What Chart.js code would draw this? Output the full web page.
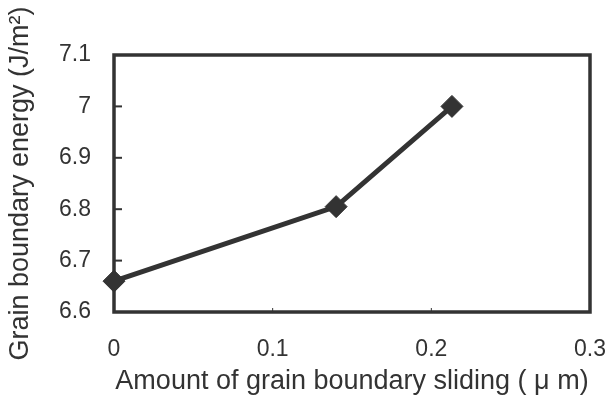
<!DOCTYPE html>
<html>
<head>
<meta charset="utf-8">
<script src="https://cdn.jsdelivr.net/npm/chart.js@4"></script>
<style>
  html, body { margin: 0; padding: 0; background: #ffffff; }
  #wrap { width: 609px; height: 401px; }
</style>
</head>
<body>
<div id="wrap"><canvas id="c" width="609" height="401"></canvas></div>
<script>
// Data
const slidingAmount = [0, 0.14, 0.213];          // μm
const boundaryEnergy = [6.66, 6.805, 7.0];       // J/m²
const xTickLabels = ['0', '0.1', '0.2', '0.3'];
const yTickLabels = ['6.6', '6.7', '6.8', '6.9', '7', '7.1'];
const xTitle = 'Amount of grain boundary sliding ( \u03BC m)';
const yTitle = 'Grain boundary energy (J/m\u00B2)';

const ink = '#333333';

const framePlugin = {
  id: 'frame',
  beforeDatasetsDraw(chart) {
    const { ctx, chartArea: a, scales } = chart;
    ctx.save();
    ctx.strokeStyle = ink;
    // inward tick marks on y axis
    ctx.lineWidth = 2;
    scales.y.ticks.forEach(t => {
      const py = scales.y.getPixelForValue(t.value);
      ctx.beginPath();
      ctx.moveTo(a.left, py);
      ctx.lineTo(a.left + 8, py);
      ctx.stroke();
    });
    // inward tick marks on x axis
    ctx.lineWidth = 1;
    scales.x.ticks.forEach(t => {
      const px = scales.x.getPixelForValue(t.value);
      ctx.beginPath();
      ctx.moveTo(px, a.bottom);
      ctx.lineTo(px, a.bottom - 4);
      ctx.stroke();
    });
    // frame
    ctx.lineWidth = 3.5;
    ctx.strokeRect(a.left, a.top, a.right - a.left, a.bottom - a.top);
    ctx.restore();
  }
};

new Chart(document.getElementById('c'), {
  type: 'scatter',
  data: {
    datasets: [{
      data: slidingAmount.map((x, i) => ({ x: x, y: boundaryEnergy[i] })),
      showLine: true,
      borderColor: ink,
      borderWidth: 5,
      pointStyle: 'rectRot',
      pointRadius: 11,
      pointBackgroundColor: ink,
      pointBorderColor: ink,
      pointBorderWidth: 1,
      clip: false
    }]
  },
  options: {
    responsive: false,
    animation: false,
    events: [],
    layout: { padding: { top: 55, right: 0, left: 0, bottom: 0 } },
    plugins: { legend: { display: false }, tooltip: { enabled: false } },
    scales: {
      x: {
        type: 'linear',
        min: 0, max: 0.3,
        afterFit(s) { s.height = 89; s.paddingRight = 19; },
        afterBuildTicks(s) { s.ticks = xTickLabels.map(v => ({ value: parseFloat(v) })); },
        ticks: {
          stepSize: 0.1,
          padding: 24,
          color: ink,
          font: { family: 'Liberation Sans, Arial, sans-serif', size: 23 },
          maxRotation: 0,
          callback: (v, i) => xTickLabels[i]
        },
        grid: { display: true, drawOnChartArea: false, drawTicks: false },
        border: { display: false },
        title: {
          display: true,
          text: xTitle,
          color: ink,
          font: { family: 'Liberation Sans, Arial, sans-serif', size: 27 },
          padding: { top: 0, bottom: 3 }
        }
      },
      y: {
        type: 'linear',
        min: 6.6, max: 7.1,
        afterFit(s) { s.width = 114; },
        afterBuildTicks(s) { s.ticks = yTickLabels.map(v => ({ value: parseFloat(v) })); },
        ticks: {
          stepSize: 0.1,
          padding: 23,
          color: ink,
          font: { family: 'Liberation Sans, Arial, sans-serif', size: 23 },
          callback: (v, i) => yTickLabels[i]
        },
        grid: { display: true, drawOnChartArea: false, drawTicks: false },
        border: { display: false },
        title: {
          display: true,
          text: yTitle,
          color: ink,
          font: { family: 'Liberation Sans, Arial, sans-serif', size: 27 },
          padding: { top: 4, bottom: 0 }
        }
      }
    }
  },
  plugins: [framePlugin]
});
</script>
</body>
</html>
